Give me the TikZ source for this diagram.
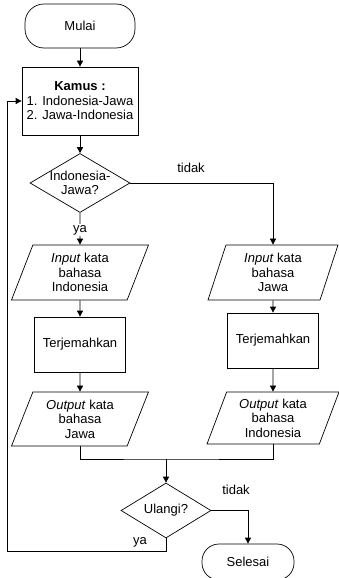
\documentclass[tikz,border=0pt]{standalone}
\usepackage{fontspec}
\setmainfont{Liberation Sans}
\usetikzlibrary{shapes.geometric,arrows.meta}
\newcommand{\flowsize}{\fontsize{13pt}{14.5pt}\selectfont}
\begin{document}
\begin{tikzpicture}[x=1pt,y=-1pt,
  line width=0.7pt,
  every node/.style={font=\flowsize, align=center},
  term/.style={draw, rectangle, rounded corners=19pt, minimum width=110pt, minimum height=44pt, inner sep=0pt},
  procbox/.style={draw, rectangle, minimum width=91pt, minimum height=55pt, inner sep=0pt},
  iobox/.style={draw, trapezium, trapezium stretches body, minimum height=55pt, inner sep=0pt},
  decision/.style={draw, diamond, inner sep=0pt},
  lbl/.style={inner sep=1pt},
  arr/.style={-{Triangle[length=6pt,width=6pt]}}
]
\useasboundingbox (0,0) rectangle (339,578);

% start and dictionary
\node[term] (mulai) at (80,26) {Mulai};
\node[draw, rectangle, minimum width=116pt, minimum height=68pt, inner sep=0pt] (kamus) at (80,101)
  {\textbf{Kamus :}\\1. Indonesia-Jawa\\2. Jawa-Indonesia};

% direction choice
\node[decision, minimum width=100pt, minimum height=59pt,
  label={[align=center, font=\flowsize]center:Indonesia-\\Jawa?}] (d1) at (80,183) {};

% left column: Indonesia -> Jawa
\node[iobox, minimum width=137pt, trapezium left angle=61, trapezium right angle=119] (in1) at (80,272.5)
  {\textit{Input} kata\\bahasa\\Indonesia};
\node[procbox] (p1) at (80,344.5) {Terjemahkan};
\node[iobox, minimum width=137pt, minimum height=54pt, trapezium left angle=61, trapezium right angle=119] (out1) at (80,419)
  {\textit{Output} kata\\bahasa\\Jawa};

% right column: Jawa -> Indonesia
\node[iobox, minimum width=130pt, trapezium left angle=65, trapezium right angle=115] (in2) at (273,272.5)
  {\textit{Input} kata\\bahasa\\Jawa};
\node[procbox] (p2) at (273,340.5) {Terjemahkan};
\node[iobox, minimum width=132pt, minimum height=52pt, trapezium left angle=63, trapezium right angle=117] (out2) at (273,418)
  {\textit{Output} kata\\bahasa\\Indonesia};

% repeat choice and end
\node[decision, minimum width=90pt, minimum height=55pt,
  label={[font=\flowsize]center:Ulangi?}] (d2) at (166,510.5) {};
\node[term, minimum width=92pt, minimum height=36pt, rounded corners=17pt] (selesai) at (248,562) {Selesai};

\coordinate (join) at (166,459);
\coordinate (loop) at (7,551);

% connectors
\draw[arr] (mulai) -- (kamus);
\draw[arr] (kamus) -- (d1);
\draw[arr] (d1.south) -- node[lbl, fill=white, pos=0.55] (ya1) {ya} (in1.north);
\draw[arr] (d1.east) -| (in2.north);
\node[lbl] (tidak1) at (191,168) {tidak};
\draw[arr] (in1) -- (p1);
\draw[arr] (p1) -- (out1);
\draw[arr] (in2) -- (p2);
\draw[arr] (p2) -- (out2);
\draw (out1.south) |- (join) -| (out2.south);
\draw[arr] (join) -- (d2.north);
\draw[arr] (d2.east) -| (selesai.north);
\node[lbl] (tidak2) at (236,490) {tidak};
\draw[arr] (d2.south) |- (loop) |- (kamus.west);
\node[lbl] (ya2) at (140,542) {ya};
\end{tikzpicture}
\end{document}
